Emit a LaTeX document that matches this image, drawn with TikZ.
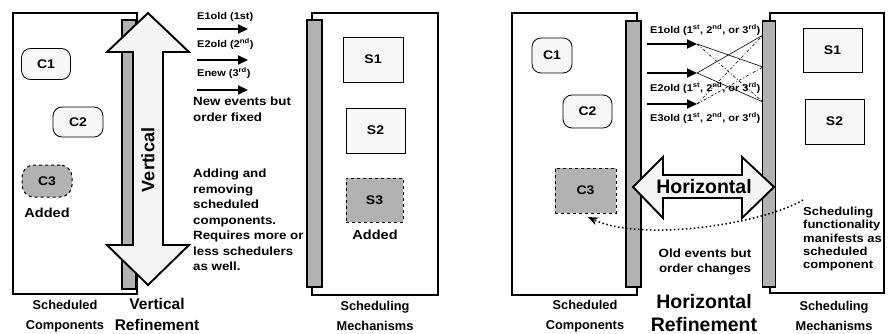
\documentclass[tikz,border=0pt]{standalone}
\usepackage{fontspec}
\setmainfont{Liberation Sans}
\newfontfamily\widesans{Liberation Sans}[FakeStretch=1.12]
\usetikzlibrary{arrows.meta}
\begin{document}
\begin{tikzpicture}[x=1pt,y=-1pt,
  frame/.style={draw, line width=1.8pt, inner sep=0pt, outer sep=0pt},
  schedbar/.style={draw, line width=1.4pt, fill=gray!60, inner sep=0pt, outer sep=0pt},
  comp/.style={draw, line width=0.8pt, rounded corners=9pt, fill=gray!6, inner sep=0pt, font=\widesans\bfseries\fontsize{12.5}{15}\selectfont},
  sbox/.style={draw, line width=0.8pt, fill=gray!6, inner sep=0pt, font=\widesans\bfseries\fontsize{12.5}{15}\selectfont},
  addedbox/.style={draw, dashed, line width=1pt, fill=gray!60, inner sep=0pt, font=\widesans\bfseries\fontsize{12.5}{15}\selectfont},
  bigarrow/.style={draw, line width=1.9pt, fill=gray!8, line join=miter},
  evarrow/.style={line width=2.2pt, -{Triangle[length=10pt,width=9pt]}},
  xline/.style={line width=0.6pt},
  xdash/.style={line width=0.6pt, dash pattern=on 3pt off 2pt on 1pt off 2pt},
  lbl/.style={font=\widesans\bfseries\fontsize{11.9}{15.5}\selectfont, align=left, anchor=north west, inner sep=0pt},
  evlbl/.style={font=\widesans\bfseries\fontsize{9.8}{11}\selectfont, anchor=west, inner sep=0pt},
  captxt/.style={font=\bfseries\fontsize{12.8}{19.5}\selectfont, align=center, inner sep=0pt},
  addlbl/.style={font=\widesans\bfseries\fontsize{13}{15}\selectfont, inner sep=0pt},
]
\useasboundingbox (0,0) rectangle (888,334);

% ================= LEFT PANEL: VERTICAL =================
\node[frame, minimum width=124pt, minimum height=281pt] (lbox) at (75,153.5) {};
\node[schedbar, minimum width=14pt, minimum height=269pt] (lbar) at (129,154.5) {};
\node[frame, minimum width=126pt, minimum height=282pt] (rbox) at (375,154) {};
\node[schedbar, minimum width=15pt, minimum height=267pt] (rbar) at (314.5,153.5) {};

\node[comp, minimum width=49pt, minimum height=31pt] (c1) at (46,64) {C1};
\node[comp, minimum width=50pt, minimum height=30pt] (c2) at (78,122) {C2};
\node[addedbox, rounded corners=12pt, minimum width=50pt, minimum height=32pt] (c3) at (47,181) {C3};
\node[addlbl] (c3a) at (47,213) {Added};

\node[sbox, minimum width=60pt, minimum height=45pt] (s1) at (373,59.5) {S1};
\node[sbox, minimum width=59pt, minimum height=45pt] (s2) at (375.5,130.5) {S2};
\node[addedbox, minimum width=57pt, minimum height=44pt] (s3) at (374.5,200) {S3};
\node[addlbl] (s3a) at (375,235) {Added};

% vertical double arrow
\draw[bigarrow] (148,13) -- (189,52) -- (163,52) -- (163,245) -- (189,245) -- (148,285)
  -- (107,245) -- (133,245) -- (133,52) -- (107,52) -- cycle;
\node[rotate=90, font=\bfseries\fontsize{18}{20}\selectfont, inner sep=0pt] (vtxt) at (148,160) {Vertical};

% events
\node[evlbl] (e1l) at (197,17) {E1old (1st)};
\node[evlbl] (e2l) at (197,44) {E2old (2\textsuperscript{nd})};
\node[evlbl] (e3l) at (197,73) {Enew (3\textsuperscript{rd})};
\coordinate (e1s) at (197,29); \coordinate (e1e) at (248,29);
\coordinate (e2s) at (197,60); \coordinate (e2e) at (248,60);
\coordinate (e3s) at (197,90); \coordinate (e3e) at (248,90);
\draw[evarrow] (e1s) -- (e1e);
\draw[evarrow] (e2s) -- (e2e);
\draw[evarrow] (e3s) -- (e3e);
\node[lbl] (newev) at (193,97) {New events but\\order fixed};
\node[lbl] (adding) at (193,169) {Adding and\\removing\\scheduled\\components.\\Requires more or\\less schedulers\\as well.};

\node[captxt] (lcap1) at (65,316) {Scheduled\\Components};
\node[captxt] (lcap2) at (375,316) {Scheduling\\Mechanisms};
\node[font=\bfseries\fontsize{15.5}{21}\selectfont, align=center, inner sep=0pt] (vref) at (157,314) {Vertical\\Refinement};

% ================= RIGHT PANEL: HORIZONTAL =================
\node[frame, minimum width=125pt, minimum height=282pt] (lbox2) at (574.5,154) {};
\node[schedbar, minimum width=15pt, minimum height=266pt] (lbar2) at (633.5,154) {};
\node[frame, minimum width=114pt, minimum height=280pt] (rbox2) at (827,153) {};
\node[schedbar, minimum width=13pt, minimum height=266pt] (rbar2) at (769,154) {};

\node[comp, minimum width=40pt, minimum height=35pt] (d1) at (552,55.5) {C1};
\node[comp, minimum width=49pt, minimum height=33pt] (d2) at (587.5,111.5) {C2};
\node[addedbox, minimum width=61pt, minimum height=45pt] (d3) at (585.5,190.5) {C3};

\node[sbox, minimum width=59pt, minimum height=44pt] (t1) at (832.5,50) {S1};
\node[sbox, minimum width=59pt, minimum height=45pt] (t2) at (834.5,121.5) {S2};

% events with changing order
\node[evlbl] (f1l) at (650,30) {E1old (1\textsuperscript{st}, 2\textsuperscript{nd}, or 3\textsuperscript{rd})};
\node[evlbl] (f2l) at (650,88) {E2old (1\textsuperscript{st}, 2\textsuperscript{nd}, or 3\textsuperscript{rd})};
\node[evlbl] (f3l) at (650,118) {E3old (1\textsuperscript{st}, 2\textsuperscript{nd}, or 3\textsuperscript{rd})};
\coordinate (f1s) at (647,44); \coordinate (f1e) at (697,44);
\coordinate (f2s) at (647,73); \coordinate (f2e) at (697,73);
\coordinate (f3s) at (647,104); \coordinate (f3e) at (697,104);
\draw[evarrow] (f1s) -- (f1e);
\draw[evarrow] (f2s) -- (f2e);
\draw[evarrow] (f3s) -- (f3e);
\coordinate (q1) at (763,35);
\coordinate (q2) at (763,67);
\coordinate (q3) at (763,102);
\draw[xline] (f1e) -- (q2);
\draw[xdash] (f1e) -- (q3);
\draw[xline] (f2e) -- (q1);
\draw[xline] (f2e) -- (q3);
\draw[xdash] (f3e) -- (q1);
\draw[xdash] (f3e) -- (q2);

% horizontal double arrow
\draw[bigarrow] (633,187) -- (663,157) -- (663,175) -- (742,175) -- (742,157) -- (774,187)
  -- (742,218) -- (742,198) -- (663,198) -- (663,218) -- cycle;
\node[font=\bfseries\fontsize{19.5}{20}\selectfont, inner sep=0pt] (htxt) at (704,187) {Horizontal};

% dotted feedback arrow
\coordinate (dstart) at (803,200);
\draw[line width=1.5pt, dash pattern=on 1.5pt off 2.5pt, -{Stealth[length=10pt,width=8pt]}]
  (dstart) .. controls (760,225) and (640,242) .. (588,217);

\node[font=\widesans\bfseries\fontsize{11.6}{13.3}\selectfont, align=left, anchor=north west, inner sep=0pt] (schf) at (803,207) {Scheduling\\functionality\\manifests as\\scheduled\\component};
\node[font=\widesans\bfseries\fontsize{11.9}{15}\selectfont, align=center, inner sep=0pt] (oldev) at (705,262) {Old events but\\order changes};

\node[captxt] (rcap1) at (585,316) {Scheduled\\Components};
\node[captxt] (rcap2) at (834,316) {Scheduling\\Mechanisms};
\node[font=\bfseries\fontsize{19.5}{23}\selectfont, align=center, inner sep=0pt] (href) at (704,313) {Horizontal\\Refinement};
\end{tikzpicture}
\end{document}
